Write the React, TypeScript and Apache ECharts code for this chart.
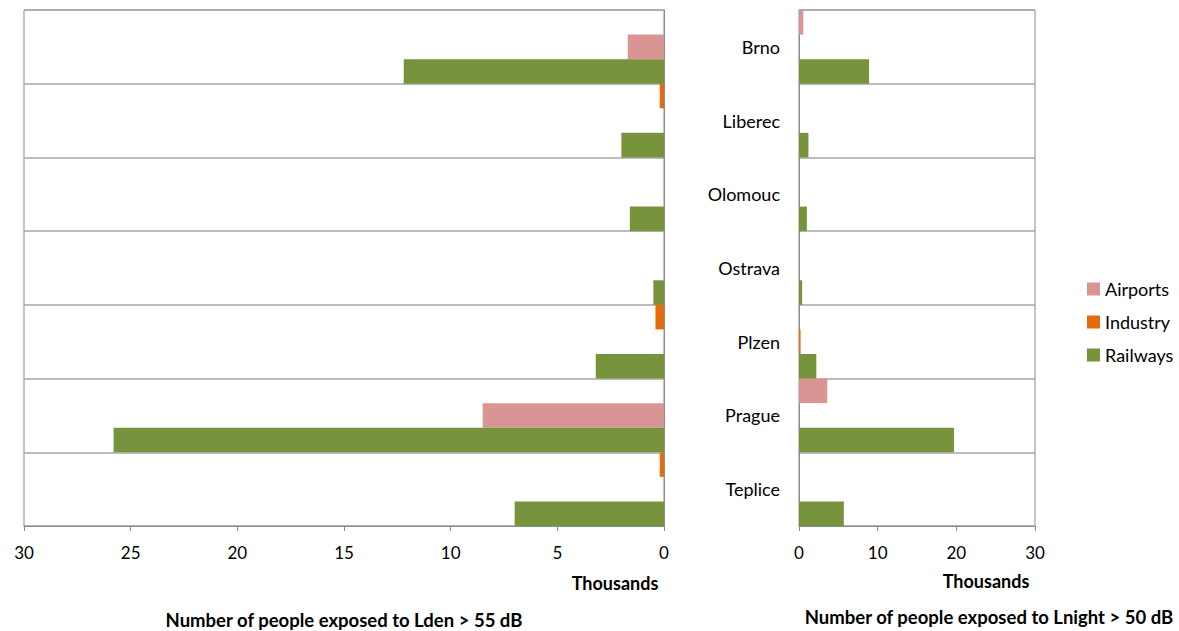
import React, { useEffect, useRef } from "react";
import * as echarts from "echarts";

const cities = ["Brno", "Liberec", "Olomouc", "Ostrava", "Plzen", "Prague", "Teplice"];
const seriesNames = ["Airports", "Industry", "Railways"];
const colors: Record<string, string> = { Airports: "#D99594", Industry: "#E46C0A", Railways: "#77933C" };

// Lden > 55 dB (thousands)
const ldenAirports = [1.7, 0, 0, 0, 0, 8.5, 0];
const ldenIndustry = [0, 0.2, 0, 0, 0.4, 0, 0.2];
const ldenRailways = [12.2, 2.0, 1.6, 0.5, 3.2, 25.8, 7.0];

// Lnight > 50 dB (thousands)
const lnightAirports = [0.55, 0, 0, 0, 0, 3.6, 0];
const lnightIndustry = [0, 0, 0, 0, 0.2, 0, 0];
const lnightRailways = [8.9, 1.2, 1.0, 0.4, 2.2, 19.7, 5.7];

const ldenTicks = [0, 5, 10, 15, 20, 25, 30];
const lnightTicks = [0, 10, 20, 30];

const FONT = "Lato, 'Open Sans', sans-serif";

export default function App() {
  const ref = useRef<HTMLDivElement>(null);
  useEffect(() => {
    if (!ref.current) return;
    const chart = echarts.init(ref.current, undefined, { renderer: "svg" });
    const mkBar = (name: string, data: number[], idx: number) => ({
      type: "bar",
      name,
      data,
      xAxisIndex: idx,
      yAxisIndex: idx,
      barGap: "0%",
      barCategoryGap: "0%",
      itemStyle: { color: colors[name] },
    });
    const catAxisCommon = {
      type: "category",
      data: cities,
      inverse: true,
      axisTick: { show: false },
      axisLine: { show: true, lineStyle: { color: "#8c8c8c", width: 1 } },
      splitLine: { show: true, lineStyle: { color: "#a6a6a6", width: 1.5 } },
    };
    const valAxisCommon = {
      type: "value",
      min: ldenTicks[0],
      max: 30,
      axisLine: { show: true, lineStyle: { color: "#8c8c8c", width: 1 } },
      axisTick: { show: true, length: 5, lineStyle: { color: "#8c8c8c" } },
      splitLine: { show: false },
      axisLabel: { fontFamily: FONT, fontSize: 17, color: "#000", margin: 18 },
    };
    chart.setOption({
      animation: false,
      backgroundColor: "#fff",
      textStyle: { fontFamily: FONT },
      grid: [
        { left: 24, right: 515, top: 10, bottom: 105, show: true, borderColor: "#8c8c8c", borderWidth: 1 },
        { left: 799, right: 144, top: 10, bottom: 105, show: true, borderColor: "#8c8c8c", borderWidth: 1 },
      ],
      xAxis: [
        { ...valAxisCommon, gridIndex: 0, inverse: true, interval: ldenTicks[1] - ldenTicks[0] },
        { ...valAxisCommon, gridIndex: 1, min: lnightTicks[0], interval: lnightTicks[1] - lnightTicks[0] },
      ],
      yAxis: [
        { ...catAxisCommon, gridIndex: 0, position: "right", axisLabel: { show: false } },
        {
          ...catAxisCommon,
          gridIndex: 1,
          position: "left",
          axisLabel: { show: true, fontFamily: FONT, fontSize: 18, color: "#000", margin: 19, align: "right" },
        },
      ],
      legend: {
        data: seriesNames,
        orient: "vertical",
        left: 1082,
        top: 275,
        itemWidth: 13,
        itemHeight: 13,
        itemGap: 15,
        icon: "rect",
        textStyle: { fontFamily: FONT, fontSize: 18, color: "#000" },
      },
      series: [
        mkBar("Industry", ldenIndustry, 0),
        mkBar("Airports", ldenAirports, 0),
        mkBar("Railways", ldenRailways, 0),
        mkBar("Airports", lnightAirports, 1),
        mkBar("Industry", lnightIndustry, 1),
        mkBar("Railways", lnightRailways, 1),
      ],
      graphic: [
        { type: "text", x: 615, y: 583, style: { text: "Thousands", font: `bold 18px ${FONT}`, fill: "#000", textAlign: "center", textVerticalAlign: "middle" } },
        { type: "text", x: 986, y: 581, style: { text: "Thousands", font: `bold 18px ${FONT}`, fill: "#000", textAlign: "center", textVerticalAlign: "middle" } },
        { type: "text", x: 344, y: 620, style: { text: "Number of people exposed to Lden > 55 dB", font: `bold 18.5px ${FONT}`, fill: "#000", textAlign: "center", textVerticalAlign: "middle" } },
        { type: "text", x: 989, y: 617, style: { text: "Number of people exposed to Lnight > 50 dB", font: `bold 18.5px ${FONT}`, fill: "#000", textAlign: "center", textVerticalAlign: "middle" } },
      ],
    });
    return () => chart.dispose();
  }, []);
  return <div ref={ref} style={{ position: "fixed", left: 0, top: 0, width: 1179, height: 631 }} />;
}
